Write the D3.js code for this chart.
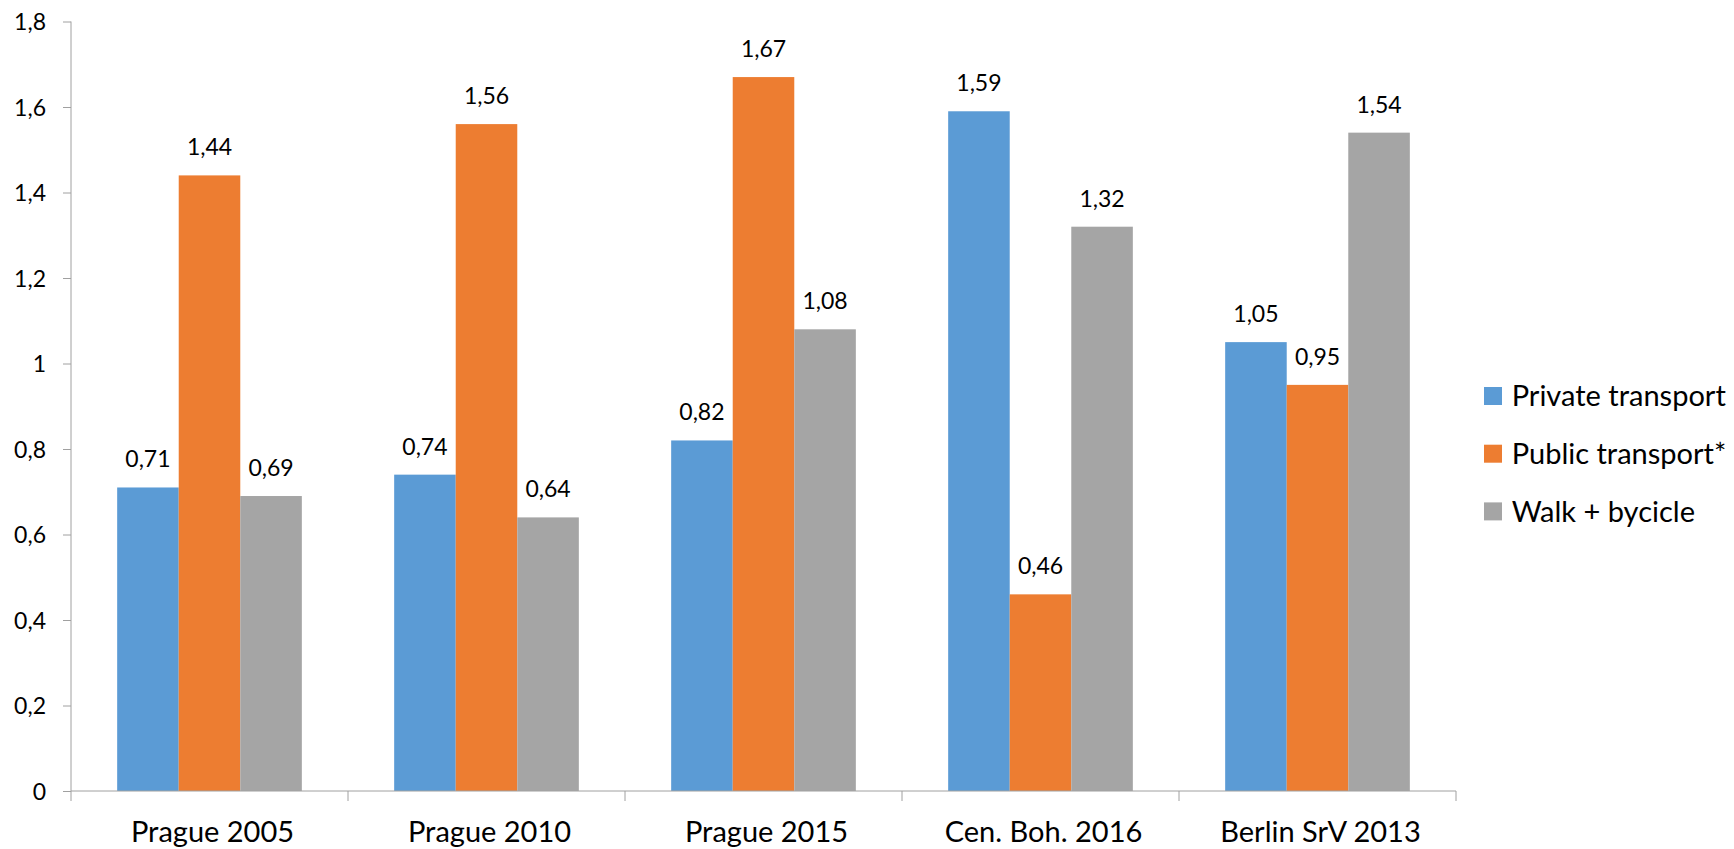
<!DOCTYPE html>
<html>
<head>
<meta charset="utf-8">
<style>
body { margin: 0; background: #fff; }
text { font-family: Lato, "Open Sans", sans-serif; fill: #000; }
.axis path, .axis line { stroke: #a0a0a0; }
</style>
</head>
<body>
<svg width="1734" height="849"></svg>
<script src="https://cdn.jsdelivr.net/npm/d3@7"></script>
<script>

var categories = ["Prague 2005", "Prague 2010", "Prague 2015", "Cen. Boh. 2016", "Berlin SrV 2013"];
var seriesNames = ["Private transport", "Public transport*", "Walk + bycicle"];
var privateTransport = [0.71, 0.74, 0.82, 1.59, 1.05];
var publicTransport = [1.44, 1.56, 1.67, 0.46, 0.95];
var walkBicycle = [0.69, 0.64, 1.08, 1.32, 1.54];
var yTicks = [0, 0.2, 0.4, 0.6, 0.8, 1, 1.2, 1.4, 1.6, 1.8];
var colors = ["#5b9bd5", "#ed7d31", "#a5a5a5"];

var series = [privateTransport, publicTransport, walkBicycle];

var svg = d3.select("svg");

// plot area (don't call it "top", that's window.top)
var plotL = 71, plotR = 1456, plotT = 21.5, plotB = 791;

var x = d3.scaleBand()
    .domain(categories)
    .range([plotL, plotR])
    .padding(0);

var xs = d3.scaleBand()
    .domain(d3.range(series.length))
    .range([0, x.bandwidth()])
    .paddingInner(0)
    .paddingOuter(0.75);

var y = d3.scaleLinear()
    .domain([0, 1.8])
    .range([plotB, plotT]);

function fmt(v) { return String(+v.toFixed(2)).replace(".", ","); }

// y axis
var yAxis = svg.append("g")
    .attr("class", "axis")
    .attr("transform", "translate(" + plotL + ",0)")
    .call(d3.axisLeft(y).tickValues(yTicks).tickFormat(fmt).tickSize(8).tickSizeOuter(0));
yAxis.select(".domain").attr("d", "M0," + plotB + "V" + plotT);
yAxis.selectAll("text")
    .attr("x", -25)
    .attr("dy", "0.36em")
    .attr("fill", "#000")
    .style("font-size", "23px")
    .style("font-family", "Lato, sans-serif");

// bars
var groups = svg.selectAll("g.cat")
  .data(categories)
  .enter().append("g")
    .attr("class", "cat")
    .attr("transform", function(d) { return "translate(" + x(d) + ",0)"; });

groups.selectAll("rect")
  .data(function(d, i) { return series.map(function(s, j) { return { s: j, v: s[i] }; }); })
  .enter().append("rect")
    .attr("x", function(d) { return xs(d.s); })
    .attr("width", xs.bandwidth())
    .attr("y", function(d) { return y(d.v); })
    .attr("height", function(d) { return plotB - y(d.v); })
    .attr("fill", function(d) { return colors[d.s]; });

// data labels
groups.selectAll("text.lbl")
  .data(function(d, i) { return series.map(function(s, j) { return { s: j, v: s[i] }; }); })
  .enter().append("text")
    .attr("class", "lbl")
    .attr("x", function(d) { return xs(d.s) + xs.bandwidth() / 2; })
    .attr("y", function(d) { return y(d.v) - 20; })
    .attr("text-anchor", "middle")
    .style("font-size", "23px")
    .text(function(d) { return fmt(d.v); });

// x axis
var boundaries = categories.map(function(c) { return x(c); }).concat([plotR]);
var xAxis = svg.append("g").attr("class", "axis");
xAxis.append("line")
    .attr("x1", plotL).attr("x2", plotR)
    .attr("y1", plotB).attr("y2", plotB);
xAxis.selectAll("line.tick")
  .data(boundaries)
  .enter().append("line")
    .attr("class", "tick")
    .attr("x1", function(d) { return d; }).attr("x2", function(d) { return d; })
    .attr("y1", plotB).attr("y2", plotB + 10);
xAxis.selectAll("text")
  .data(categories)
  .enter().append("text")
    .attr("x", function(d) { return x(d) + x.bandwidth() / 2 + 3; })
    .attr("y", 842)
    .attr("text-anchor", "middle")
    .style("font-size", "29px")
    .text(function(d) { return d; });

// legend
var legend = svg.selectAll("g.leg")
  .data(seriesNames)
  .enter().append("g")
    .attr("class", "leg")
    .attr("transform", function(d, i) { return "translate(1484," + (396 + i * 57.7) + ")"; });
legend.append("rect")
    .attr("x", 0).attr("y", -9)
    .attr("width", 18).attr("height", 18)
    .attr("fill", function(d, i) { return colors[i]; });
legend.append("text")
    .attr("x", 27.7)
    .attr("dy", "0.36em")
    .style("font-size", "29px")
    .text(function(d) { return d; });

</script>
</body>
</html>
